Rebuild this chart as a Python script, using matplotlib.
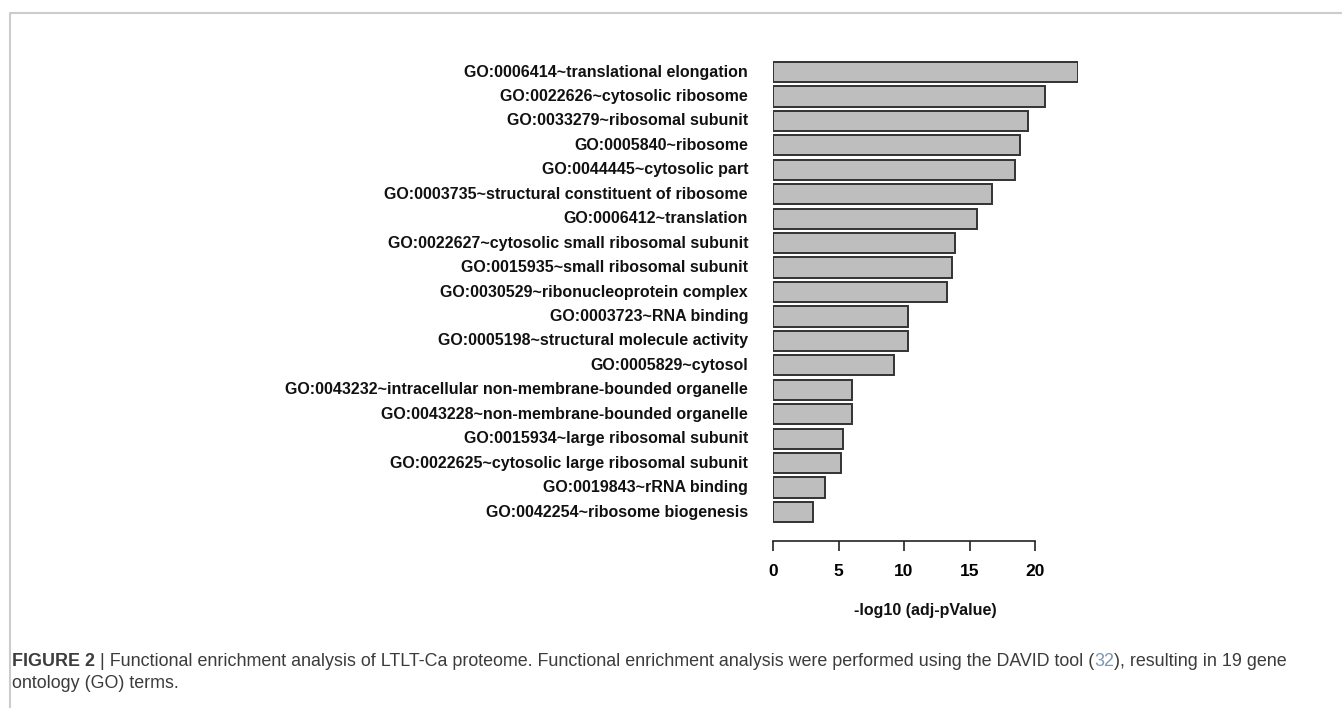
import numpy as np
from matplotlib import pyplot as plt
from matplotlib.lines import Line2D

terms = [
    "GO:0006414~translational elongation",
    "GO:0022626~cytosolic ribosome",
    "GO:0033279~ribosomal subunit",
    "GO:0005840~ribosome",
    "GO:0044445~cytosolic part",
    "GO:0003735~structural constituent of ribosome",
    "GO:0006412~translation",
    "GO:0022627~cytosolic small ribosomal subunit",
    "GO:0015935~small ribosomal subunit",
    "GO:0030529~ribonucleoprotein complex",
    "GO:0003723~RNA binding",
    "GO:0005198~structural molecule activity",
    "GO:0005829~cytosol",
    "GO:0043232~intracellular non-membrane-bounded organelle",
    "GO:0043228~non-membrane-bounded organelle",
    "GO:0015934~large ribosomal subunit",
    "GO:0022625~cytosolic large ribosomal subunit",
    "GO:0019843~rRNA binding",
    "GO:0042254~ribosome biogenesis",
]
neglog_p = [23.3, 20.8, 19.5, 18.85, 18.5, 16.7, 15.55, 13.9, 13.7, 13.3,
            10.3, 10.3, 9.2, 6.0, 6.0, 5.35, 5.2, 3.95, 3.05]
xticks = [0, 5, 10, 15, 20]

plt.rcParams['font.family'] = ['Liberation Sans', 'DejaVu Sans']

W, H = 1342, 708
fig = plt.figure(figsize=(W / 100, H / 100), dpi=100)

# plot region in pixels
left_px, right_px = 773, 773 + 23.3 * 13.1
top_px, bottom_px = 59.8, 541
ax = fig.add_axes([left_px / W, 1 - bottom_px / H,
                   (right_px - left_px) / W, (bottom_px - top_px) / H])

ypos = np.arange(len(terms))
ax.barh(ypos, neglog_p, height=0.83, color="#bebebe", edgecolor="#333333",
        linewidth=1.4)
ax.set_xlim(0, 23.3)
ax.set_ylim(18 + 29 / 24.45, -0.5)

for s in ["top", "right", "left"]:
    ax.spines[s].set_visible(False)
ax.spines["bottom"].set_bounds(0, 20)
ax.spines["bottom"].set_linewidth(1.2)
ax.spines["bottom"].set_color("#222222")
ax.set_xticks(xticks)
ax.set_xticklabels([str(t) for t in xticks], fontweight="bold", fontsize=12.5)
ax.tick_params(axis="x", length=7.5, width=1.2, color="#222222", pad=9)
ax.set_yticks([])

for y, t in zip(ypos, terms):
    ax.text(-25 / 13.1, y, t, ha="right", va="center", fontsize=11.5,
            fontweight="bold", color="#111111")

ax.text(11.65, 18 + 29 / 24.45 + 70 / 24.45, "-log10 (adj-pValue)", ha="center",
        va="center", fontsize=11.5, fontweight="bold", color="#111111")

# light gray frame (top and left only)
fig.add_artist(Line2D([9.5 / W, 9.5 / W, 1], [0, 1 - 13 / H, 1 - 13 / H],
                      transform=fig.transFigure, color="#cccccc", lw=1.5))

# caption
cap_col = "#3c3c3c"
fig.canvas.draw()
r = fig.canvas.get_renderer()


def put(x, y, s, **kw):
    t = fig.text(x / W, 1 - y / H, s, va="center", ha="left", fontsize=12.9, **kw)
    bb = t.get_window_extent(renderer=r)
    return x + bb.width


x = put(12, 661, "FIGURE 2", fontweight="bold", color=cap_col)
x = put(x, 661, " | Functional enrichment analysis of LTLT-Ca proteome. Functional "
        "enrichment analysis were performed using the DAVID tool (", color=cap_col)
x = put(x, 661, "32", color="#7f97b0")
put(x, 661, "), resulting in 19 gene", color=cap_col)
put(12, 683, "ontology (GO) terms.", color=cap_col)

fig.savefig("out.png", dpi=100)
